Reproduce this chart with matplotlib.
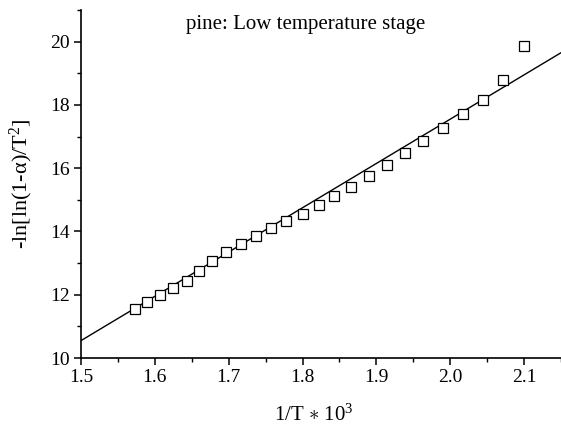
import matplotlib
matplotlib.use("Agg")
import numpy as np
import matplotlib.pyplot as plt
from matplotlib.ticker import MultipleLocator

# measured points (1/T * 10^3, -ln[ln(1-a)/T^2])
inv_T = [1.573, 1.590, 1.607, 1.625, 1.643, 1.660, 1.678, 1.697, 1.717,
         1.737, 1.757, 1.778, 1.800, 1.822, 1.843, 1.866, 1.890, 1.914,
         1.939, 1.963, 1.990, 2.017, 2.044, 2.072, 2.100]
y_vals = [11.55, 11.78, 12.00, 12.20, 12.45, 12.75, 13.08, 13.35, 13.60,
          13.85, 14.10, 14.32, 14.55, 14.85, 15.12, 15.42, 15.75, 16.10,
          16.48, 16.85, 17.28, 17.72, 18.15, 18.78, 19.87]

# linear fit shown in the figure
fit_slope = 14.0
fit_intercept = 10.55 - 14.0 * 1.5

plt.rcParams["font.family"] = ["Liberation Serif", "DejaVu Serif"]
plt.rcParams["mathtext.fontset"] = "custom"
plt.rcParams["mathtext.rm"] = "Liberation Serif"
plt.rcParams["mathtext.it"] = "Liberation Serif:italic"

fig = plt.figure(figsize=(5.61, 4.26), dpi=100)
ax = fig.add_axes([0.1444, 0.1596, 0.8556, 0.8169])

x_line = np.linspace(1.5, 2.15, 2)
ax.plot(x_line, fit_slope * x_line + fit_intercept, color="black", lw=1.0)
ax.plot(inv_T, y_vals, linestyle="none", marker="s", markersize=7.5,
        markerfacecolor="white", markeredgecolor="black", markeredgewidth=0.9)

ax.set_xlim(1.5, 2.15)
ax.set_ylim(10, 21)
ax.xaxis.set_minor_locator(MultipleLocator(0.05))
ax.yaxis.set_major_locator(MultipleLocator(2))
ax.yaxis.set_minor_locator(MultipleLocator(1))
ax.set_xticks([1.5, 1.6, 1.7, 1.8, 1.9, 2.0, 2.1])
ax.set_xticklabels(["1.5", "1.6", "1.7", "1.8", "1.9", "2.0", "2.1"])

for side in ("top", "right"):
    ax.spines[side].set_visible(False)
for side in ("left", "bottom"):
    ax.spines[side].set_linewidth(1.2)
ax.tick_params(which="major", direction="out", length=5, width=1.1,
               labelsize=14, pad=3)
ax.tick_params(which="minor", direction="out", length=3, width=1.0)

ax.set_xlabel(r"1/T $\ast$ 10$^{3}$", fontsize=15)
ax.xaxis.set_label_coords(0.485, -0.135)
ax.set_ylabel(r"-ln[ln(1-$\mathrm{\alpha}$)/T$^{2}$]", fontsize=16)
ax.yaxis.set_label_coords(-0.095, 0.5)
ax.text(0.467, 0.985, "pine: Low temperature stage", transform=ax.transAxes,
        ha="center", va="top", fontsize=15)

fig.savefig("out.png", dpi=100)
